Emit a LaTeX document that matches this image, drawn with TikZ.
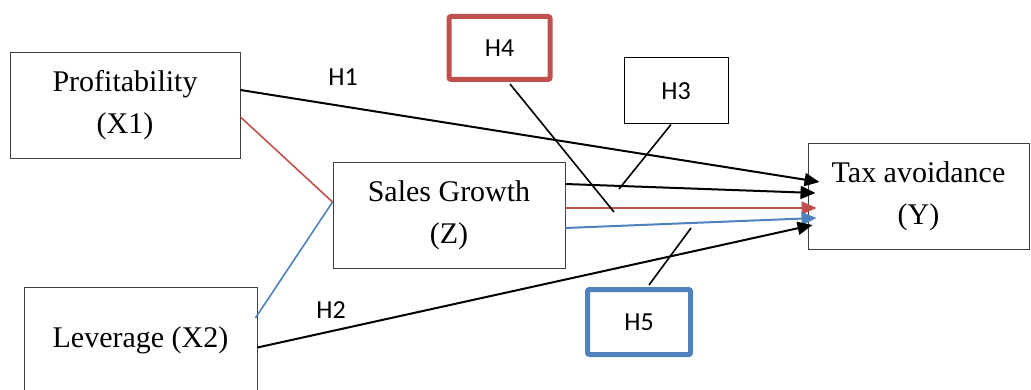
\documentclass[tikz,border=0pt]{standalone}
\usepackage{fontspec}
\setmainfont{Liberation Serif}
\newfontfamily\hfont{Carlito}
\usetikzlibrary{arrows.meta}
\definecolor{hred}{RGB}{192,80,77}
\definecolor{hblue}{RGB}{79,129,189}
\begin{document}
\begin{tikzpicture}[x=1pt,y=-1pt,
  varbox/.style={draw=black!75,line width=0.9pt,align=center,inner sep=0pt,
    font=\fontsize{30}{42}\selectfont},
  hbox/.style={draw=black,line width=1pt,inner sep=0pt,font=\hfont\fontsize{26}{30}\selectfont},
  hlabel/.style={font=\hfont\fontsize{26}{30}\selectfont,inner sep=0pt},
  arr/.style={line width=2pt,-{Triangle[length=15pt,width=13pt]}},
  link/.style={line width=1.6pt}]
\useasboundingbox (0,0) rectangle (1031,390);
\node[varbox,minimum width=230pt,minimum height=106pt] (prof) at (125,105) {Profitability\\(X1)};
\node[varbox,minimum width=232pt,minimum height=106pt] (sales) at (449,215) {Sales Growth\\(Z)};
\node[varbox,minimum width=233pt,minimum height=106pt] (lev) at (140.5,340) {Leverage (X2)};
\node[varbox,minimum width=221pt,minimum height=106pt] (tax) at (918.5,196) {Tax avoidance\\(Y)};
\node[hbox,draw=hred,line width=5pt,rounded corners=2pt,minimum width=101pt,minimum height=63pt] (h4) at (499.5,48) {H4};
\node[hbox,minimum width=104pt,minimum height=66pt] (h3) at (676,91) {H3};
\node[hbox,draw=hblue,line width=5pt,rounded corners=2pt,minimum width=103pt,minimum height=65pt] (h5) at (639,322) {H5};
\node[hlabel] (lh1) at (343,77) {H1};
\node[hlabel] (lh2) at (331,310) {H2};
% coordinates for pointer ends
\coordinate (p4) at (614,212);
\coordinate (p3) at (619,189);
\coordinate (p5) at (691,228);
% arrows
\draw[arr,black] ([yshift=15pt]prof.east) -- ([xshift=12pt,yshift=14pt]tax.west);
\draw[arr,black] ([yshift=31pt]sales.east) -- ([xshift=8pt,yshift=3pt]tax.west);
\draw[arr,hred] ([yshift=7pt]sales.east) -- ([xshift=9pt,yshift=-12pt]tax.west);
\draw[arr,hblue] ([yshift=-13pt]sales.east) -- ([xshift=9pt,yshift=-22pt]tax.west);
\draw[arr,black] ([yshift=-7.5pt]lev.east) -- ([xshift=5pt,yshift=-29pt]tax.west);
% links
\draw[link,hred] ([yshift=-12pt]prof.east) -- ([yshift=13pt]sales.west);
\draw[link,hblue] ([yshift=13pt]sales.west) -- ([xshift=-2pt,yshift=22pt]lev.east);
\draw[link,black] ([xshift=10.5pt,yshift=-2pt]h4.south) -- (p4);
\draw[link,black] ([xshift=-5pt]h3.south) -- (p3);
\draw[link,black] ([xshift=10pt,yshift=2pt]h5.north) -- (p5);
\end{tikzpicture}
\end{document}
